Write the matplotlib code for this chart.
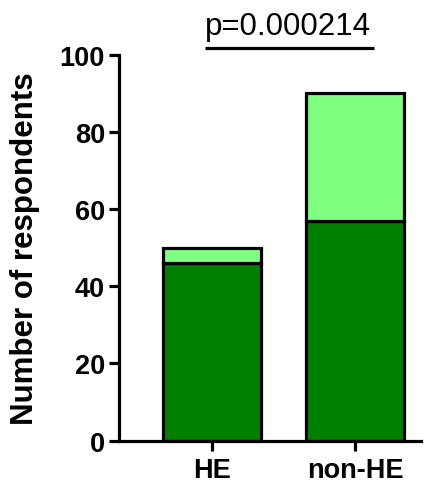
import matplotlib
matplotlib.use("Agg")
import matplotlib.pyplot as plt

groups = ["HE", "non-HE"]
dark_counts = [46, 57]
light_counts = [4, 33]
p_label = "p=0.000214"

plt.rcParams['font.family'] = ['Liberation Sans', 'DejaVu Sans']

fig = plt.figure(figsize=(4.25, 4.85), dpi=100)
ax = fig.add_axes([0.28, 0.0893, 0.71, 0.7960])

x = list(range(len(groups)))
lw = 2.3
ax.bar(x, dark_counts, width=0.69, color="#008000", edgecolor="black", linewidth=lw, zorder=2)
ax.bar(x, light_counts, width=0.69, bottom=dark_counts, color="#80FF80",
       edgecolor="black", linewidth=lw, zorder=2)

ax.set_xlim(-0.65, 1.46)
ax.set_ylim(0, 100)
ax.set_yticks([0, 20, 40, 60, 80, 100])
ax.set_xticks(x)
ax.set_xticklabels(groups)

for side in ["top", "right"]:
    ax.spines[side].set_visible(False)
for side in ["left", "bottom"]:
    ax.spines[side].set_linewidth(2.3)

ax.tick_params(axis="both", width=2.3, length=7, labelsize=19.5, pad=3)
ax.tick_params(axis="x", pad=5)
for lab in ax.get_xticklabels() + ax.get_yticklabels():
    lab.set_fontweight("bold")

ax.set_ylabel("Number of respondents", fontsize=22.5, fontweight="bold")
ax.yaxis.set_label_coords(-0.262, 0.5)

# significance annotation above the plot
ax.text(0.535, 103.5, p_label, ha="center", va="bottom", fontsize=22.5, clip_on=False)
ax.plot([-0.05, 1.13], [101.8, 101.8], color="black", linewidth=2.3, clip_on=False,
        solid_capstyle="butt")

fig.savefig("out.png", dpi=100)
